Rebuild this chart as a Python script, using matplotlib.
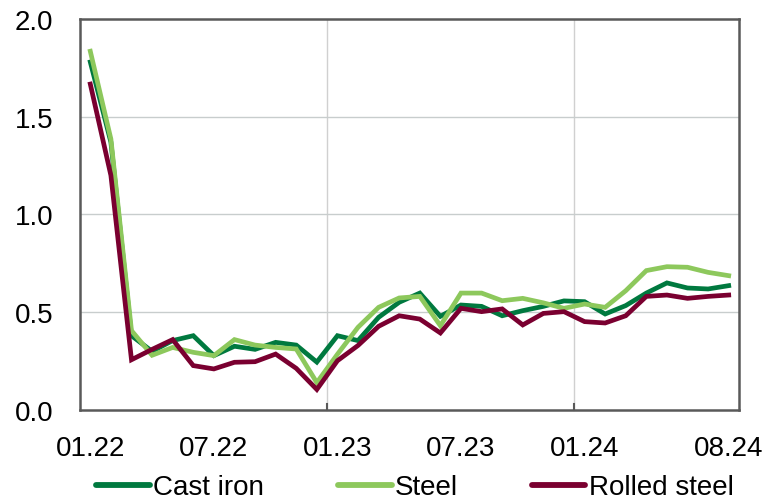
import matplotlib
matplotlib.use("Agg")
import matplotlib.pyplot as plt
import numpy as np

months = ["01.22","02.22","03.22","04.22","05.22","06.22","07.22","08.22","09.22","10.22","11.22","12.22",
          "01.23","02.23","03.23","04.23","05.23","06.23","07.23","08.23","09.23","10.23","11.23","12.23",
          "01.24","02.24","03.24","04.24","05.24","06.24","07.24","08.24"]
tick_labels = ["01.22", "07.22", "01.23", "07.23", "01.24", "08.24"]

cast_iron = [1.78, 1.37, 0.38, 0.30, 0.355, 0.38, 0.278, 0.326, 0.31, 0.346, 0.332, 0.245,
             0.38, 0.355, 0.474, 0.551, 0.598, 0.479, 0.537, 0.53, 0.482, 0.508, 0.53, 0.558,
             0.554, 0.491, 0.534, 0.598, 0.65, 0.624, 0.619, 0.636]
steel = [1.835, 1.386, 0.406, 0.28, 0.32, 0.295, 0.278, 0.36, 0.332, 0.32, 0.312, 0.14,
         0.285, 0.423, 0.525, 0.573, 0.581, 0.431, 0.598, 0.598, 0.559, 0.571, 0.548, 0.52,
         0.542, 0.525, 0.61, 0.713, 0.733, 0.73, 0.704, 0.687]
rolled_steel = [1.667, 1.20, 0.257, 0.31, 0.36, 0.227, 0.21, 0.244, 0.247, 0.286, 0.213, 0.105,
                0.252, 0.33, 0.428, 0.482, 0.465, 0.394, 0.52, 0.503, 0.517, 0.435, 0.494, 0.503,
                0.452, 0.445, 0.482, 0.581, 0.588, 0.571, 0.581, 0.588]

plt.rcParams['font.family'] = ['Liberation Sans', 'DejaVu Sans']

fig = plt.figure(figsize=(7.67, 5.02), dpi=100)
ax = fig.add_axes([0.1043, 0.1813, 0.8592, 0.7789])

x = np.arange(len(months))
c_cast = "#00793F"
c_steel = "#8DC85C"
c_rolled = "#7A0030"
ax.plot(x, cast_iron, color=c_cast, lw=3.4, label="Cast iron", solid_joinstyle='miter', zorder=3)
ax.plot(x, steel, color=c_steel, lw=3.4, label="Steel", solid_joinstyle='miter', zorder=4)
ax.plot(x, rolled_steel, color=c_rolled, lw=3.4, label="Rolled steel", solid_joinstyle='miter', zorder=5)

ax.set_xlim(-0.5, len(months) - 0.5)
ax.set_ylim(0, 2.0)
ax.set_yticks([0, 0.5, 1.0, 1.5, 2.0])
ax.set_yticklabels(["0.0", "0.5", "1.0", "1.5", "2.0"])

pos = [months.index(t) for t in tick_labels]
ax.set_xticks(pos)
ax.set_xticklabels(tick_labels)
ax.tick_params(axis='x', length=0, pad=18, labelsize=20, colors='black')
ax.tick_params(axis='y', length=0, pad=19, labelsize=20)

# vertical grid at year boundaries
for b in [11.5, 23.5]:
    ax.axvline(b, color="#D0D0D0", lw=1.0, zorder=1)
    ax.plot([b, b], [0, 0.03], color="#595959", lw=1.5, zorder=2, clip_on=False)
for yv in [0.5, 1.0, 1.5]:
    ax.axhline(yv, color="#C8CDCD", lw=1.0, zorder=1)

for s in ax.spines.values():
    s.set_color("#595959")
    s.set_linewidth(1.8)

leg = fig.legend(loc="center", bbox_to_anchor=(0.541, 0.027), ncol=3, frameon=False,
                 fontsize=20, handlelength=1.93, handletextpad=0.12, columnspacing=2.65,
                 borderpad=0, borderaxespad=0)
for h in leg.get_lines():
    h.set_linewidth(4.2)
    h.set_solid_capstyle('round')

fig.savefig("out.png", dpi=100)
